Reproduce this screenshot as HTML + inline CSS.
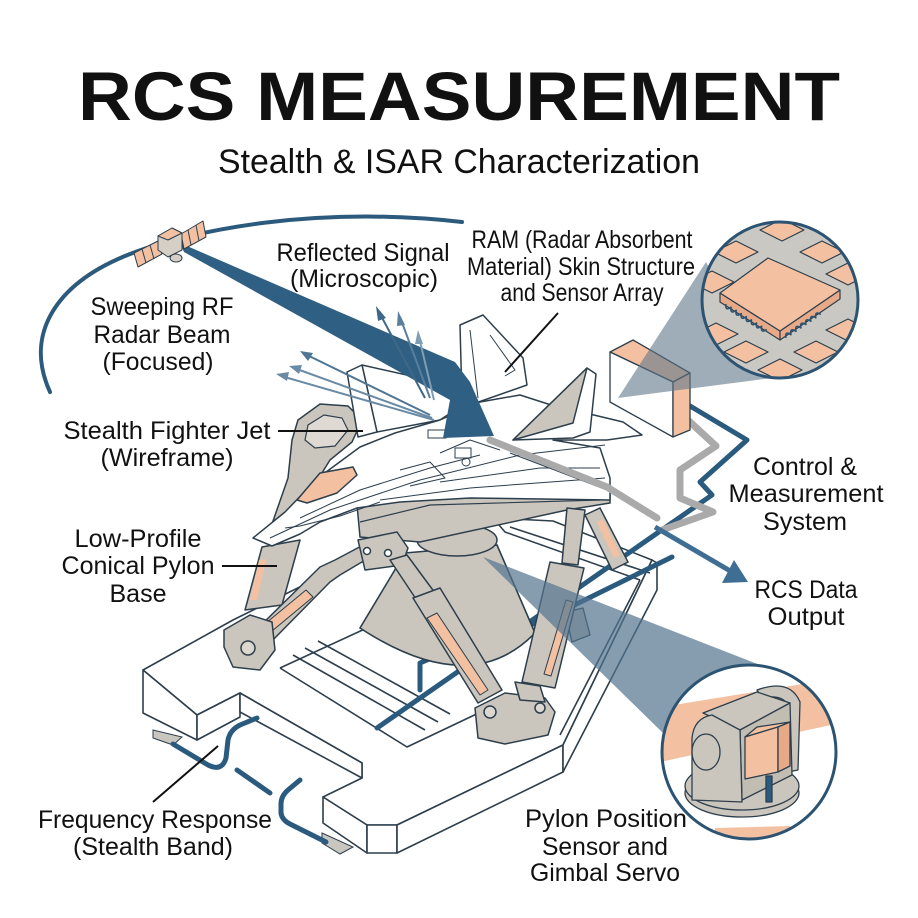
<!DOCTYPE html>
<html><head><meta charset="utf-8">
<style>
html,body{margin:0;padding:0;background:#fff;}
svg{display:block;}
text{font-family:"Liberation Sans",Arial,sans-serif;fill:#111;}
</style></head><body>
<svg width="918" height="918" viewBox="0 0 918 918" xmlns="http://www.w3.org/2000/svg">
<defs>
<clipPath id="c1"><circle cx="780" cy="300" r="77"/></clipPath>
<clipPath id="c2"><circle cx="749" cy="752" r="86"/></clipPath>
</defs>
<rect width="918" height="918" fill="#fff"/>

<!-- Title -->
<text x="459" y="120" text-anchor="middle" font-size="69" font-weight="bold" textLength="762" lengthAdjust="spacingAndGlyphs">RCS MEASUREMENT</text>
<text x="459" y="173" text-anchor="middle" font-size="34" textLength="482" lengthAdjust="spacingAndGlyphs">Stealth &amp; ISAR Characterization</text>

<!-- orbit arc -->
<path d="M50,392 C24,335 55,285 125,256 C195,228 320,206 462,222" fill="none" stroke="#2c5a7c" stroke-width="4" stroke-linecap="round"/>

<!-- Platform -->
<g stroke="#2d3e4c" stroke-width="1.6" stroke-linejoin="round" fill="#fff">
  <polygon points="143,670 233,620 330,572 420,530 493,518 553,521 652,560 563,745 397,825 367,825 323,797 362,778 362,763 240,693 197,715"/>
  <polygon points="143,670 197,715 197,740 143,713"/>
  <polygon points="197,715 240,693 240,717 197,740"/>
  <polygon points="240,693 362,763 362,778 240,712"/>
  <polygon points="323,797 367,825 367,853 323,823"/>
  <polygon points="367,825 397,825 397,853 367,853"/>
  <polygon points="397,825 563,745 563,772 397,853"/>
  <polygon points="563,745 652,560 657,563 657,590 563,772"/>
  <polyline points="280,668 380,622" fill="none"/>
  <polyline points="280,668 407,747 485,710" fill="none"/>
  <polyline points="293,655 425,730" fill="none"/>
  <polyline points="305,648 438,722" fill="none"/>
  <polyline points="318,641 450,714" fill="none"/>
  <polyline points="510,527 650,573" fill="none"/>
  <polyline points="493,518 505,532 640,580" fill="none"/>
  <polyline points="640,580 560,735" fill="none"/>
</g>
<!-- pads -->
<polygon points="153,730 182,737 173,745 153,738" fill="#c9c6c0" stroke="#2d3e4c" stroke-width="1"/>
<polygon points="322,833 353,847 340,854 322,843" fill="#c9c6c0" stroke="#2d3e4c" stroke-width="1"/>
<!-- cables -->
<g fill="none" stroke="#2a5a7e" stroke-width="5" stroke-linecap="round" stroke-linejoin="round">
  <path d="M680,400 L747,440 L700,482 L712,495 L377,728"/>
  <path d="M420,690 L420,663 L462,645 L540,622 L672,557"/>
  <path d="M173,744 L208,765 Q222,772 226,758 L228,740 Q230,730 240,725 L257,718"/>
  <path d="M237,770 L270,793"/>
  <path d="M300,780 L288,790 Q281,796 281,804 L281,813 Q282,820 290,824 L326,842"/>
</g>

<!-- back right leg -->
<polygon points="585,515 600,508 628,562 612,570" fill="#cbc6bd" stroke="#2d3e4c" stroke-width="1.5"/>
<polygon points="597,522 603,519 620,555 614,558" fill="#f3c1a1"/>
<polygon points="565,612 583,608 590,635 572,642" fill="#cbc6bd" stroke="#2d3e4c" stroke-width="1.3"/>

<!-- back-left gray loop -->
<polygon points="298,420 320,404 348,406 362,420 352,442 330,460 302,505 286,530 272,524 288,478 292,440" fill="#cbc6bd" stroke="#2d3e4c" stroke-width="1.5"/>
<polygon points="308,425 324,415 342,418 348,430 335,446 315,448 305,440" fill="#dedad3" stroke="#2d3e4c" stroke-width="1.2"/>

<!-- cone pylon -->
<path d="M405,553 L497,545 L535,633 Q470,700 360,628 Z" fill="#cbc6bd" stroke="#2d3e4c" stroke-width="1.6"/>
<ellipse cx="457" cy="540" rx="40" ry="16" fill="#cbc6bd" stroke="#2d3e4c" stroke-width="1.5"/>

<!-- top bracket -->
<polygon points="357,505 430,485 610,493 610,503 567,510 420,542 360,537" fill="#cbc6bd" stroke="#2d3e4c" stroke-width="1.5"/>
<polyline points="360,522 430,505 600,500" fill="none" stroke="#2d3e4c" stroke-width="1.2"/>

<!-- legs -->
<g stroke="#2d3e4c" stroke-width="1.5" stroke-linejoin="round">
  <polygon points="245,610 262,547 300,540 282,605" fill="#cbc6bd"/>
  <polygon points="250,600 259,560 266,559 257,600" fill="#f3c1a1" stroke="none"/>
  <polygon points="253,633 320,567 335,560 367,543 372,556 340,575 330,582 267,646" fill="#cbc6bd"/>
  <polygon points="260,628 306,590 313,597 266,636" fill="#f3c1a1" stroke-width="1"/>
  <polygon points="224,630 250,615 272,622 275,650 260,670 233,667 224,647" fill="#cbc6bd"/>
  <circle cx="248" cy="648" r="7" fill="#dcd8d0"/>
  <polygon points="358,540 397,532 408,548 402,565 365,570" fill="#cbc6bd"/>
  <circle cx="367" cy="551" r="3.5" fill="#fff"/>
  <circle cx="388" cy="553" r="3.5" fill="#fff"/>
  <polygon points="390,560 407,555 438,597 420,605" fill="#cbc6bd"/>
  <polygon points="413,598 440,588 502,690 478,703" fill="#cbc6bd"/>
  <polygon points="427,618 437,613 488,690 480,695" fill="#f3c1a1" stroke-width="1"/>
  <polygon points="567,508 585,510 578,565 562,563" fill="#cbc6bd"/>
  <polygon points="550,562 584,568 555,688 522,682" fill="#cbc6bd"/>
  <polygon points="566,600 573,602 551,676 544,674" fill="#f3c1a1" stroke-width="1"/>
  <polygon points="475,708 505,693 545,698 555,712 548,735 505,744 478,738" fill="#cbc6bd"/>
  <circle cx="490" cy="712" r="6" fill="#dcd8d0"/>
  <circle cx="540" cy="708" r="5" fill="#dcd8d0"/>
  <polygon points="515,682 540,686 545,702 520,700" fill="#cbc6bd"/>
</g>

<!-- bottom magnifier cone -->
<polygon points="483,557 760,665 665,735" fill="#52748f" opacity="0.7"/>

<!-- Jet -->
<g stroke="#2d3e4c" stroke-width="1.5" stroke-linejoin="round" fill="#fff">
  <polygon points="362,365 420,378 470,400 440,420 377,432"/>
  <polygon points="347,372 362,365 377,432 358,437"/>
  <polygon points="460,325 483,315 523,358 527,385 470,405 462,400"/>
  <polyline points="470,330 478,398" fill="none" stroke-width="1"/>
  <polyline points="490,335 515,370 505,376" fill="none" stroke-width="1"/>
  <polygon points="253,538 285,512 318,478 360,447 395,433 440,420 480,402 520,395 548,404 573,410 623,422 642,435 607,440 553,440 600,448 610,478 610,500 470,498 400,502 357,508 320,522 300,534 272,546"/>
  <polygon points="513,440 587,368 596,374 590,432 573,438"/>
  <polygon points="513,440 587,368 573,423" fill="#cbc6bd"/>
  <polygon points="297,500 320,473 353,467 357,475 337,493 307,503" fill="#f3c1a1"/>
  <g fill="none" stroke-width="1">
    <polyline points="270,538 330,510 420,480 520,455 605,445"/>
    <polyline points="300,518 360,490 430,468 480,455"/>
    <polyline points="285,528 300,526 340,516 380,502"/>
    <polyline points="380,500 470,488 605,478"/>
    <polyline points="440,453 470,440 500,450"/>
    <polyline points="400,470 430,462 445,478 410,486"/>
    <polyline points="510,453 607,490"/>
    <polyline points="440,482 540,468 600,468"/>
    <rect x="428" y="430" width="18" height="8"/>
    <rect x="455" y="448" width="16" height="10"/>
    <circle cx="466" cy="462" r="4"/>
  </g>
</g>

<!-- Radar beam -->
<polygon points="180,243 455,362 470,382 494,436 443,438 450,400 184,252" fill="#2f5f82"/>

<!-- reflected arrows -->
<g stroke-width="2" fill="none">
  <line x1="425" y1="398" x2="379" y2="312" stroke="#3f6888"/>
  <line x1="430" y1="398" x2="400" y2="317" stroke="#5a7f9c"/>
  <line x1="434" y1="400" x2="419" y2="337" stroke="#7f9db3"/>
  <line x1="430" y1="415" x2="305" y2="354" stroke="#4f7694"/>
  <line x1="432" y1="418" x2="294" y2="368" stroke="#6a8ba5"/>
  <line x1="434" y1="420" x2="281" y2="376" stroke="#6a8ba5"/>
</g>
<g>
  <polygon points="376,306 386,318 378,321" fill="#3f6888"/>
  <polygon points="398,311 405,325 397,326" fill="#5a7f9c"/>
  <polygon points="418,330 423,344 415,344" fill="#7f9db3"/>
  <polygon points="300,351 313,353 308,361" fill="#4f7694"/>
  <polygon points="289,366 302,365 299,374" fill="#6a8ba5"/>
  <polygon points="276,374 289,372 287,381" fill="#6a8ba5"/>
</g>

<!-- gray cables and output arrow -->
<g fill="none" stroke="#a9aaa9" stroke-width="7" stroke-linejoin="round" stroke-linecap="round">
  <path d="M490,440 L607,487 L657,518"/>
  <path d="M677,410 L716,446 L680,470 L680,498 L713,512 L662,530"/>
</g>
<line x1="655" y1="527" x2="732" y2="572" stroke="#3e6e93" stroke-width="5"/>
<polygon points="748,582 734,560 722,583" fill="#3e6e93"/>

<!-- box -->
<g stroke="#2d3e4c" stroke-width="1.3" stroke-linejoin="round">
  <polygon points="610,352 633,340 690,373 673,382" fill="#f3c1a1"/>
  <polygon points="610,352 673,382 673,437 610,402" fill="#fff"/>
  <polygon points="673,382 690,373 690,430 673,437" fill="#f3c1a1"/>
</g>

<!-- top magnifier cone + circle -->
<polygon points="618,398 706,262 772,378" fill="#5f7688" opacity="0.6"/>
<circle cx="780" cy="300" r="78" fill="#cac8c3"/>
<g clip-path="url(#c1)" stroke="#2d3e4c" stroke-width="1.2" stroke-linejoin="round">
  <g fill="#f3c1a1">
    <polygon points="760,230 782,219 804,230 782,241"/>
    <polygon points="714,252 736,241 758,252 736,263"/>
    <polygon points="800,252 822,241 844,252 822,263"/>
    <polygon points="826,274 848,263 870,274 848,285"/>
    <polygon points="690,282 712,271 734,282 712,293"/>
    <polygon points="694,334 716,323 738,334 716,345"/>
    <polygon points="724,352 746,341 768,352 746,363"/>
    <polygon points="758,370 780,359 802,370 780,381"/>
    <polygon points="794,352 816,341 838,352 816,363"/>
    <polygon points="826,330 848,319 870,330 848,341"/>
    <polygon points="698,226 720,215 742,226 720,237"/>
    <polygon points="758,392 780,381 802,392 780,403"/>
    <polygon points="820,214 842,203 864,214 842,225"/>
  </g>
  <polygon points="720,293 720,302 780,340 780,331" fill="#e7a987"/>
  <polygon points="780,331 780,340 840,299 840,290" fill="#e7a987"/>
  <polygon points="720,293 768,258 840,290 780,331" fill="#f3c1a1"/>
  <path d="M726,304 q3,7 6,0 q3,7 6,0 q3,7 6,0 q3,7 6,0 q3,7 6,0 q3,7 6,0 q3,7 6,0 q3,7 6,0" fill="none" stroke="#2c5472" stroke-width="1.6" transform="rotate(32 726 304)"/>
  <path d="M786,338 q3,-7 6,0 q3,-7 6,0 q3,-7 6,0 q3,-7 6,0 q3,-7 6,0 q3,-7 6,0 q3,-7 6,0" fill="none" stroke="#2c5472" stroke-width="1.6" transform="rotate(-34 786 338)"/>
</g>
<circle cx="780" cy="300" r="78" fill="none" stroke="#2c5472" stroke-width="3"/>

<!-- bottom magnifier circle -->
<circle cx="749" cy="752" r="87" fill="#fff"/>
<g clip-path="url(#c2)" stroke="#2d3e4c" stroke-width="1.3" stroke-linejoin="round">
  <polygon points="655,708 840,678 845,722 660,762" fill="#f3c1a1" stroke="none"/>
  <polygon points="715,828 790,826 792,845 715,845" fill="#f3c1a1" stroke="none"/>
  <ellipse cx="742" cy="793" rx="57" ry="24" fill="#cbc6bd"/>
  <ellipse cx="742" cy="786" rx="57" ry="24" fill="#cbc6bd"/>
  <path d="M757,690 Q790,678 800,702 L798,770 L788,772 L788,705 Q782,694 762,698 Z" fill="#cbc6bd"/>
  <polygon points="703,713 757,692 790,703 740,730" fill="#cbc6bd"/>
  <polygon points="740,730 790,703 792,775 742,800" fill="#c2bdb3"/>
  <path d="M692,738 Q694,718 712,715 L740,730 L742,802 L692,800 Z" fill="#cbc6bd"/>
  <ellipse cx="706" cy="752" rx="14" ry="18" fill="#cbc6bd"/>
  <polygon points="745,737 757,727 790,722 778,727" fill="#f3c1a1"/>
  <polygon points="745,737 778,727 778,772 745,779" fill="#f3c1a1"/>
  <polygon points="778,727 790,722 790,766 778,772" fill="#e7a987"/>
  <rect x="766" y="776" width="6" height="26" fill="#2a5a7e"/>
</g>
<circle cx="749" cy="752" r="87" fill="none" stroke="#2c5472" stroke-width="3"/>

<!-- satellite -->
<g stroke="#2d3e4c" stroke-width="1" stroke-linejoin="round">
  <polygon points="134,253 158,241 162,254 138,267" fill="#f3c1a1"/>
  <line x1="142" y1="249" x2="146" y2="263"/><line x1="150" y1="245" x2="154" y2="259"/>
  <polygon points="181,234 203,221 206,237 184,249" fill="#f3c1a1"/>
  <line x1="188" y1="230" x2="191" y2="245"/><line x1="196" y1="225" x2="199" y2="241"/>
  <polygon points="158,236 172,228 182,233 182,250 168,257 158,250" fill="#d5cfc6"/>
  <polygon points="158,236 172,228 182,233 168,240" fill="#f3c1a1"/>
  <ellipse cx="176" cy="258" rx="6" ry="4" fill="#d5cfc6"/>
</g>

<!-- leader lines -->
<g stroke="#111" stroke-width="2">
  <line x1="278" y1="431" x2="363" y2="431"/>
  <line x1="558" y1="313" x2="505" y2="372"/>
  <line x1="222" y1="566" x2="277" y2="566"/>
  <line x1="153" y1="802" x2="218" y2="746"/>
</g>

<!-- labels -->
<g font-size="25" text-anchor="middle">
  <text x="363" y="261" textLength="173" lengthAdjust="spacingAndGlyphs">Reflected Signal</text>
  <text x="364" y="287" textLength="148" lengthAdjust="spacingAndGlyphs">(Microscopic)</text>
  <text x="162" y="315" textLength="143" lengthAdjust="spacingAndGlyphs">Sweeping RF</text>
  <text x="162" y="343" textLength="137" lengthAdjust="spacingAndGlyphs">Radar Beam</text>
  <text x="158" y="370" textLength="111" lengthAdjust="spacingAndGlyphs">(Focused)</text>
  <text x="167" y="439" textLength="207" lengthAdjust="spacingAndGlyphs">Stealth Fighter Jet</text>
  <text x="167" y="466" textLength="133" lengthAdjust="spacingAndGlyphs">(Wireframe)</text>
  <text x="582" y="248" textLength="221" lengthAdjust="spacingAndGlyphs">RAM (Radar Absorbent</text>
  <text x="581" y="275" textLength="228" lengthAdjust="spacingAndGlyphs">Material) Skin Structure</text>
  <text x="582" y="301" textLength="163" lengthAdjust="spacingAndGlyphs">and Sensor Array</text>
  <text x="805" y="475" textLength="104" lengthAdjust="spacingAndGlyphs">Control &amp;</text>
  <text x="806" y="502" textLength="155" lengthAdjust="spacingAndGlyphs">Measurement</text>
  <text x="805" y="530" textLength="84" lengthAdjust="spacingAndGlyphs">System</text>
  <text x="806" y="598" textLength="103" lengthAdjust="spacingAndGlyphs">RCS Data</text>
  <text x="806" y="625" textLength="77" lengthAdjust="spacingAndGlyphs">Output</text>
  <text x="138" y="547" textLength="127" lengthAdjust="spacingAndGlyphs">Low-Profile</text>
  <text x="138" y="574" textLength="153" lengthAdjust="spacingAndGlyphs">Conical Pylon</text>
  <text x="138" y="602" textLength="57" lengthAdjust="spacingAndGlyphs">Base</text>
  <text x="155" y="828" textLength="234" lengthAdjust="spacingAndGlyphs">Frequency Response</text>
  <text x="153" y="855" textLength="160" lengthAdjust="spacingAndGlyphs">(Stealth Band)</text>
  <text x="606" y="827" textLength="162" lengthAdjust="spacingAndGlyphs">Pylon Position</text>
  <text x="605" y="855" textLength="126" lengthAdjust="spacingAndGlyphs">Sensor and</text>
  <text x="605" y="881" textLength="150" lengthAdjust="spacingAndGlyphs">Gimbal Servo</text>
</g>
</svg>
</body></html>
